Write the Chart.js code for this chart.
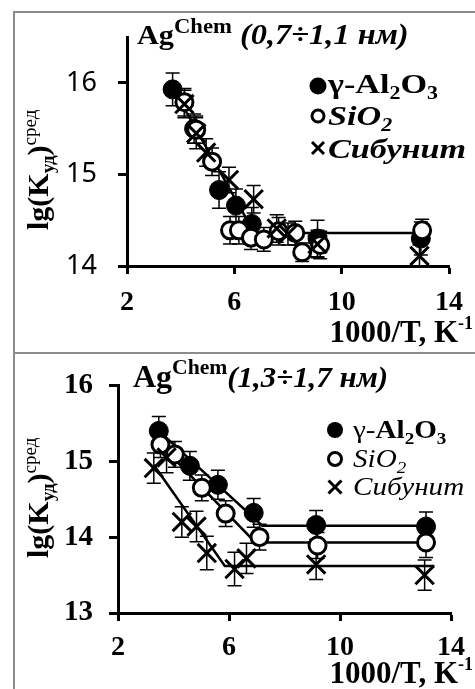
<!DOCTYPE html>
<html>
<head>
<meta charset="utf-8">
<script src="https://cdn.jsdelivr.net/npm/chart.js@4"></script>
<style>
body{margin:0;background:#fff;width:475px;height:689px;overflow:hidden;position:relative}
.frame{position:absolute;left:13px;border:2px solid #8c8c8c;border-right:none;box-sizing:border-box}
.box{position:absolute;left:0;width:475px}
</style>
</head>
<body>
<div class="frame" style="top:11px;width:470px;height:343px"></div>
<div class="frame" style="top:352px;width:470px;height:350px;border-bottom:none"></div>
<div class="box" style="top:0;height:352px"><canvas id="topChart"></canvas></div>
<div class="box" style="top:352px;height:337px"><canvas id="botChart"></canvas></div>
<script>
// top panel, Ag (0,7÷1,1 nm)
var topAlX   = [3.7, 4.5, 5.43, 6.06, 6.65, 9.1, 12.95];
var topAlY   = [15.93, 15.5, 14.83, 14.66, 14.46, 14.3, 14.3];
var topAlErr = [0.18, 0.16, 0.2, 0.18, 0.18, 0.2, 0.18];
var topSiX   = [4.14, 4.58, 5.17, 5.84, 6.17, 6.62, 7.1, 7.65, 8.27, 8.53, 9.2, 13.0];
var topSiY   = [15.79, 15.49, 15.14, 14.39, 14.39, 14.31, 14.29, 14.38, 14.36, 14.15, 14.23, 14.39];
var topSiErr = [0.15, 0.15, 0.15, 0.15, 0.15, 0.13, 0.13, 0.15, 0.13, 0.1, 0.15, 0.12];
var topCX    = [4.14, 4.58, 4.95, 5.8, 6.72, 7.58, 8.0, 9.1, 12.9];
var topCY    = [15.77, 15.45, 15.24, 14.94, 14.73, 14.41, 14.35, 14.24, 14.11];
var topCErr  = [0.15, 0.17, 0.15, 0.14, 0.15, 0.15, 0.12, 0.15, 0.12];
var topLineX = [3.7, 6.75, 13.0];
var topLineY = [15.95, 14.36, 14.36];

// bottom panel, Ag (1,3÷1,7 nm)
var botAlX   = [3.47, 4.59, 5.6, 6.89, 9.14, 13.1];
var botAlY   = [15.4, 14.94, 14.69, 14.32, 14.16, 14.14];
var botAlErr = [0.19, 0.19, 0.19, 0.19, 0.19, 0.19];
var botSiX   = [3.53, 4.05, 5.02, 5.88, 7.1, 9.19, 13.1];
var botSiY   = [15.22, 15.09, 14.65, 14.31, 14.0, 13.89, 13.93];
var botSiErr = [0.17, 0.17, 0.17, 0.17, 0.17, 0.17, 0.2];
var botCX    = [3.29, 3.75, 4.3, 4.83, 5.2, 6.2, 6.63, 9.14, 13.05];
var botCY    = [14.91, 15.05, 14.2, 14.14, 13.79, 13.58, 13.72, 13.64, 13.5];
var botCErr  = [0.2, 0.2, 0.2, 0.2, 0.22, 0.22, 0.2, 0.2, 0.2];
var botAlLineX = [3.47, 7.2, 13.4];
var botAlLineY = [15.4, 14.15, 14.15];
var botSiLineX = [3.53, 6.95, 13.4];
var botSiLineY = [15.22, 13.93, 13.93];
var botCLineX  = [3.29, 5.85, 13.4];
var botCLineY  = [14.95, 13.62, 13.62];

var xTicks = [2, 6, 10, 14];

var SERIF = '"Liberation Serif", "Times New Roman", serif';

function pts(xs, ys) {
    return xs.map(function(x, i){ return {x: x, y: ys[i]}; });
}

// text made of pieces (sub/superscripts), sx stretches it horizontally
function rich(ctx, x, y, parts, align, sx) {
    sx = sx || 1;
    var w = 0;
    parts.forEach(function(p){ ctx.font = p.f; w += ctx.measureText(p.t).width * sx; });
    var cx = align === 'right' ? x - w : x;
    parts.forEach(function(p){
        ctx.font = p.f;
        ctx.save();
        ctx.translate(cx, y + (p.dy || 0));
        ctx.scale(sx, 1);
        ctx.fillText(p.t, 0, 0);
        ctx.restore();
        cx += ctx.measureText(p.t).width * sx;
    });
}

function marker(ctx, kind, x, y, r) {
    ctx.save();
    ctx.strokeStyle = '#000';
    ctx.fillStyle = '#000';
    ctx.beginPath();
    if (kind === 'fill') {
        ctx.arc(x, y, r, 0, Math.PI * 2);
        ctx.fill();
    } else if (kind === 'open') {
        ctx.lineWidth = 3;
        ctx.arc(x, y, r, 0, Math.PI * 2);
        ctx.stroke();
    } else {
        ctx.lineWidth = 3;
        ctx.moveTo(x - r, y - r); ctx.lineTo(x + r, y + r);
        ctx.moveTo(x + r, y - r); ctx.lineTo(x - r, y + r);
        ctx.stroke();
    }
    ctx.restore();
}

// error bars drawn under the markers
var errorBars = {
    id: 'errorBars',
    beforeDatasetsDraw: function(chart) {
        var ctx = chart.ctx, sx = chart.scales.x, sy = chart.scales.y;
        ctx.save();
        ctx.strokeStyle = '#000';
        ctx.lineWidth = 1.5;
        chart.data.datasets.forEach(function(ds){
            if (!ds.err) return;
            ds.data.forEach(function(p, i){
                var px = sx.getPixelForValue(p.x);
                var y1 = sy.getPixelForValue(p.y + ds.err[i]);
                var y2 = sy.getPixelForValue(p.y - ds.err[i]);
                ctx.beginPath();
                ctx.moveTo(px, y1); ctx.lineTo(px, y2);
                ctx.moveTo(px - 7, y1); ctx.lineTo(px + 7, y1);
                ctx.moveTo(px - 7, y2); ctx.lineTo(px + 7, y2);
                ctx.stroke();
            });
        });
        ctx.restore();
    }
};

// title, axis titles and legend
var texts = {
    id: 'texts',
    afterDraw: function(chart, args, o) {
        var ctx = chart.ctx;
        ctx.save();
        ctx.fillStyle = '#000';
        ctx.textAlign = 'left';
        ctx.textBaseline = 'alphabetic';
        rich(ctx, o.title.x, o.title.y, o.title.parts, 'left', o.title.sx);
        rich(ctx, o.xTitle.x, o.xTitle.y, o.xTitle.parts, 'right');
        ctx.save();
        ctx.translate(o.yTitle.x, o.yTitle.y);
        ctx.rotate(-Math.PI / 2);
        rich(ctx, 0, 0, o.yTitle.parts);
        ctx.restore();
        o.legend.forEach(function(l){
            marker(ctx, l.kind, o.legendX, l.y, l.r);
            rich(ctx, o.legendTextX, l.y + l.off, l.parts, 'left', o.legendSx);
        });
        ctx.restore();
    }
};

function makeChart(id, sets, lines, o) {
    var datasets = [
        {data: pts(sets[2][0], sets[2][1]), err: sets[2][2], pointStyle: 'crossRot', pointRadius: 13,
         borderColor: '#000', borderWidth: 3, backgroundColor: '#000'},
        {data: pts(sets[1][0], sets[1][1]), err: sets[1][2], pointStyle: 'circle', pointRadius: 8.5,
         borderColor: '#000', borderWidth: 3, backgroundColor: '#fff'},
        {data: pts(sets[0][0], sets[0][1]), err: sets[0][2], pointStyle: 'circle', pointRadius: 9.5,
         borderColor: '#000', borderWidth: 1, backgroundColor: '#000'}
    ];
    lines.forEach(function(l){
        datasets.push({data: pts(l[0], l[1]), showLine: true, pointRadius: 0,
                       borderColor: '#000', borderWidth: 2.5, fill: false});
    });
    return new Chart(document.getElementById(id), {
        type: 'scatter',
        data: {datasets: datasets},
        options: {
            responsive: true,
            maintainAspectRatio: false,
            animation: false,
            events: [],
            layout: {padding: o.padding},
            plugins: {legend: {display: false}, tooltip: {enabled: false}, texts: o.texts},
            scales: {
                x: {
                    type: 'linear', min: 2, max: 14,
                    afterBuildTicks: function(s){ s.ticks = xTicks.map(function(v){ return {value: v}; }); },
                    afterFit: function(s){ s.height = o.xHeight; },
                    ticks: {color: '#000', padding: o.xPad, maxRotation: 0,
                            font: {family: SERIF, weight: 'bold', size: o.xFont}},
                    grid: {drawOnChartArea: false, color: '#000', tickLength: 8, tickWidth: 3},
                    border: {color: '#000', width: 3}
                },
                y: {
                    min: o.yMin, max: o.yMax,
                    afterFit: function(s){ s.width = o.yWidth; },
                    ticks: {stepSize: 1, includeBounds: false, color: '#000', padding: o.yPad, font: o.yFontSpec},
                    grid: {drawOnChartArea: false, color: '#000', tickLength: 9, tickWidth: 3},
                    border: {color: '#000', width: 3}
                }
            }
        },
        plugins: [errorBars, texts]
    });
}

makeChart('topChart',
    [[topAlX, topAlY, topAlErr], [topSiX, topSiY, topSiErr], [topCX, topCY, topCErr]],
    [[topLineX, topLineY]],
    {
        padding: {top: 32, right: 22, left: 0, bottom: 0},
        xHeight: 86, yWidth: 127, xPad: 12, yPad: 21, xFont: 28,
        yMin: 14, yMax: 16.5,
        yFontSpec: {family: '"Noto Sans", sans-serif', size: 27},
        texts: {
            title: {x: 137, y: 44, sx: 1.08, parts: [
                {t: 'Ag', f: 'bold 28px ' + SERIF},
                {t: 'Chem', f: 'bold 21px ' + SERIF, dy: -11},
                {t: ' (0,7÷1,1 нм)', f: 'italic bold 30px ' + SERIF}]},
            xTitle: {x: 473, y: 342, parts: [
                {t: '1000/T, K', f: 'bold 31px ' + SERIF},
                {t: '-1', f: 'bold 18px ' + SERIF, dy: -13}]},
            yTitle: {x: 48, y: 230, parts: [
                {t: 'lg(K', f: 'bold 30px ' + SERIF},
                {t: 'уд', f: 'bold 19px ' + SERIF, dy: 6},
                {t: ')', f: 'bold 30px ' + SERIF},
                {t: 'сред', f: '19px ' + SERIF, dy: -12}]},
            legendX: 318, legendTextX: 328, legendSx: 1.22,
            legend: [
                {kind: 'fill', y: 86, r: 8.5, off: 7, parts: [
                    {t: 'γ-Al', f: 'bold 28px ' + SERIF},
                    {t: '2', f: 'bold 18px ' + SERIF, dy: 6},
                    {t: 'O', f: 'bold 28px ' + SERIF},
                    {t: '3', f: 'bold 18px ' + SERIF, dy: 6}]},
                {kind: 'open', y: 116, r: 6, off: 9, parts: [
                    {t: 'SiO', f: 'italic bold 28px ' + SERIF},
                    {t: '2', f: 'italic bold 18px ' + SERIF, dy: 6}]},
                {kind: 'cross', y: 148, r: 6, off: 10, parts: [
                    {t: 'Сибунит', f: 'italic bold 28px ' + SERIF}]}
            ]
        }
    });

makeChart('botChart',
    [[botAlX, botAlY, botAlErr], [botSiX, botSiY, botSiErr], [botCX, botCY, botCErr]],
    [[botAlLineX, botAlLineY], [botSiLineX, botSiLineY], [botCLineX, botCLineY]],
    {
        padding: {top: 18, right: 23, left: 0, bottom: 0},
        xHeight: 76, yWidth: 118, xPad: 10, yPad: 16, xFont: 28,
        yMin: 13, yMax: 16,
        yFontSpec: {family: SERIF, weight: 'bold', size: 29},
        texts: {
            title: {x: 133, y: 35, sx: 1.03, parts: [
                {t: 'Ag', f: 'bold 31px ' + SERIF},
                {t: 'Chem', f: 'bold 21px ' + SERIF, dy: -13},
                {t: '(1,3÷1,7 нм)', f: 'italic bold 30px ' + SERIF}]},
            xTitle: {x: 473, y: 331, parts: [
                {t: '1000/T, K', f: 'bold 31px ' + SERIF},
                {t: '-1', f: 'bold 18px ' + SERIF, dy: -13}]},
            yTitle: {x: 48, y: 206, parts: [
                {t: 'lg(K', f: 'bold 30px ' + SERIF},
                {t: 'уд', f: 'bold 19px ' + SERIF, dy: 6},
                {t: ')', f: 'bold 30px ' + SERIF},
                {t: 'сред', f: '19px ' + SERIF, dy: -12}]},
            legendX: 335, legendTextX: 353, legendSx: 1.12,
            legend: [
                {kind: 'fill', y: 78, r: 8, off: 8, parts: [
                    {t: 'γ-', f: '26px ' + SERIF},
                    {t: 'Al', f: 'bold 26px ' + SERIF},
                    {t: '2', f: 'bold 17px ' + SERIF, dy: 6},
                    {t: 'O', f: 'bold 26px ' + SERIF},
                    {t: '3', f: 'bold 17px ' + SERIF, dy: 6}]},
                {kind: 'open', y: 107, r: 6.5, off: 8, parts: [
                    {t: 'SiO', f: 'italic 26px ' + SERIF},
                    {t: '2', f: 'italic 17px ' + SERIF, dy: 6}]},
                {kind: 'cross', y: 135, r: 6.5, off: 8, parts: [
                    {t: 'Сибунит', f: 'italic 26px ' + SERIF}]}
            ]
        }
    });
</script>
</body>
</html>
